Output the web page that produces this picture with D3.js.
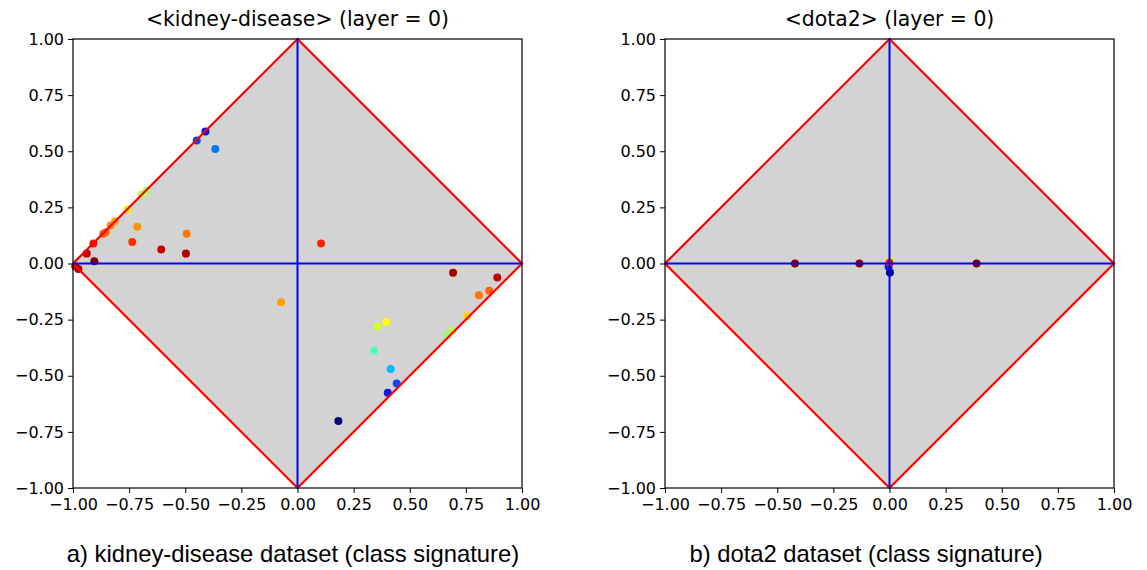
<!DOCTYPE html>
<html>
<head>
<meta charset="utf-8">
<script src="https://cdn.jsdelivr.net/npm/d3@7"></script>
<style>
  body { margin: 0; background: #fff; }
  svg { display: block; }
</style>
</head>
<body>
<div id="chart"></div>
<script>
// tick values shared by both panels
var ticks = [-1, -0.75, -0.5, -0.25, 0, 0.25, 0.5, 0.75, 1];

// kidney-disease points (x, y, class value on jet colormap 0..1)
var kidneyX = [-0.41, -0.449, -0.366, -0.672, -0.694, -0.758, -0.813, -0.832, -0.854, -0.865,
               -0.714, -0.494, -0.736, -0.909, -0.939, -0.905, -0.607, -0.497, -0.99, -0.976,
               0.105, -0.073,
               0.693, 0.89, 0.854, 0.808, 0.756, 0.691, 0.667, 0.396, 0.356, 0.341,
               0.415, 0.442, 0.402, 0.182];
var kidneyY = [0.588, 0.548, 0.51, 0.324, 0.307, 0.24, 0.188, 0.169, 0.139, 0.133,
               0.164, 0.132, 0.096, 0.089, 0.044, 0.01, 0.062, 0.044, -0.012, -0.024,
               0.089, -0.173,
               -0.041, -0.062, -0.121, -0.141, -0.234, -0.298, -0.32, -0.259, -0.281, -0.388,
               -0.47, -0.535, -0.576, -0.702];
var kidneyC = [0.14, 0.19, 0.24, 0.53, 0.56, 0.64, 0.71, 0.74, 0.77, 0.78,
               0.73, 0.76, 0.83, 0.86, 0.93, 1.0, 0.93, 0.95, 0.95, 0.96,
               0.84, 0.72,
               0.96, 0.93, 0.78, 0.76, 0.67, 0.56, 0.52, 0.62, 0.58, 0.45,
               0.31, 0.2, 0.15, 0.0];

// dota2 points
var dotaX = [-0.421, -0.134, 0.388, 0.002, -0.004, 0.003, 0.002, 0.0];
var dotaY = [0, 0, 0, -0.04, -0.014, 0.008, 0.012, 0.003];
var dotaC = [1.0, 1.0, 1.0, 0.0, 0.15, 0.5, 0.62, 0.86];

var W = 1147, H = 570;
var svg = d3.select('#chart').append('svg')
    .attr('width', W)
    .attr('height', H);

// matplotlib "jet" colormap
var jet = d3.scaleLinear()
    .domain([0, 0.125, 0.375, 0.625, 0.875, 1])
    .range(['#00007f', '#0000ff', '#00ffff', '#ffff00', '#ff0000', '#7f0000'])
    .interpolate(d3.interpolateRgb);

var fmt = d3.format('.2f');

function drawPanel(left, xs, ys, cs, title, caption, capX)
{
    var top = 39, size = 449;
    var x = d3.scaleLinear().domain([-1, 1]).range([left, left + size]);
    var y = d3.scaleLinear().domain([-1, 1]).range([top + size, top]);
    var g = svg.append('g');

    // grey diamond
    var diamond = [[0, 1], [1, 0], [0, -1], [-1, 0]];
    var line = d3.line().x(d => x(d[0])).y(d => y(d[1]));
    g.append('path')
        .attr('d', line(diamond) + 'Z')
        .attr('fill', '#d3d3d3');

    // points
    var pts = xs.map((v, i) => ({ x: v, y: ys[i], c: cs[i] }));
    g.selectAll('circle')
        .data(pts)
        .enter().append('circle')
        .attr('cx', d => x(d.x))
        .attr('cy', d => y(d.y))
        .attr('r', 4)
        .attr('fill', d => jet(d.c));

    // red diamond outline
    g.append('path')
        .attr('d', line(diamond) + 'Z')
        .attr('fill', 'none')
        .attr('stroke', '#ff0000')
        .attr('stroke-width', 2.2);

    // blue cross
    g.append('path')
        .attr('d', line([[-1, 0], [1, 0]]))
        .attr('stroke', '#0000ff')
        .attr('stroke-width', 2);
    g.append('path')
        .attr('d', line([[0, -1], [0, 1]]))
        .attr('stroke', '#0000ff')
        .attr('stroke-width', 2);

    // axes
    var xAxis = d3.axisBottom(x).tickValues(ticks).tickFormat(fmt).tickSizeOuter(0).tickSize(5).tickPadding(6);
    var yAxis = d3.axisLeft(y).tickValues(ticks).tickFormat(fmt).tickSizeOuter(0).tickSize(5).tickPadding(4);
    var ax = g.append('g').attr('transform', 'translate(0,' + (top + size) + ')').call(xAxis);
    var ay = g.append('g').attr('transform', 'translate(' + left + ',0)').call(yAxis);
    [ax, ay].forEach(function(a) {
        a.selectAll('text')
            .attr('fill', '#000')
            .style('font-family', 'DejaVu Sans')
            .style('font-size', '16px');
        a.selectAll('line').attr('stroke', '#000').attr('stroke-width', 1);
        a.select('.domain').remove();
    });

    // frame
    g.append('rect')
        .attr('x', left)
        .attr('y', top)
        .attr('width', size)
        .attr('height', size)
        .attr('fill', 'none')
        .attr('stroke', '#000')
        .attr('stroke-width', 1.2);

    g.append('text')
        .attr('x', left + size / 2)
        .attr('y', 26)
        .attr('text-anchor', 'middle')
        .style('font-family', 'DejaVu Sans')
        .style('font-size', '20.4px')
        .text(title);

    g.append('text')
        .attr('x', capX)
        .attr('y', 562)
        .attr('text-anchor', 'middle')
        .style('font-family', 'Liberation Sans')
        .style('font-size', '23.8px')
        .text(caption);
}

drawPanel(73, kidneyX, kidneyY, kidneyC, '<kidney-disease> (layer = 0)',
    'a) kidney-disease dataset (class signature)', 293);
drawPanel(665, dotaX, dotaY, dotaC, '<dota2> (layer = 0)',
    'b) dota2 dataset (class signature)', 866);
</script>
</body>
</html>
